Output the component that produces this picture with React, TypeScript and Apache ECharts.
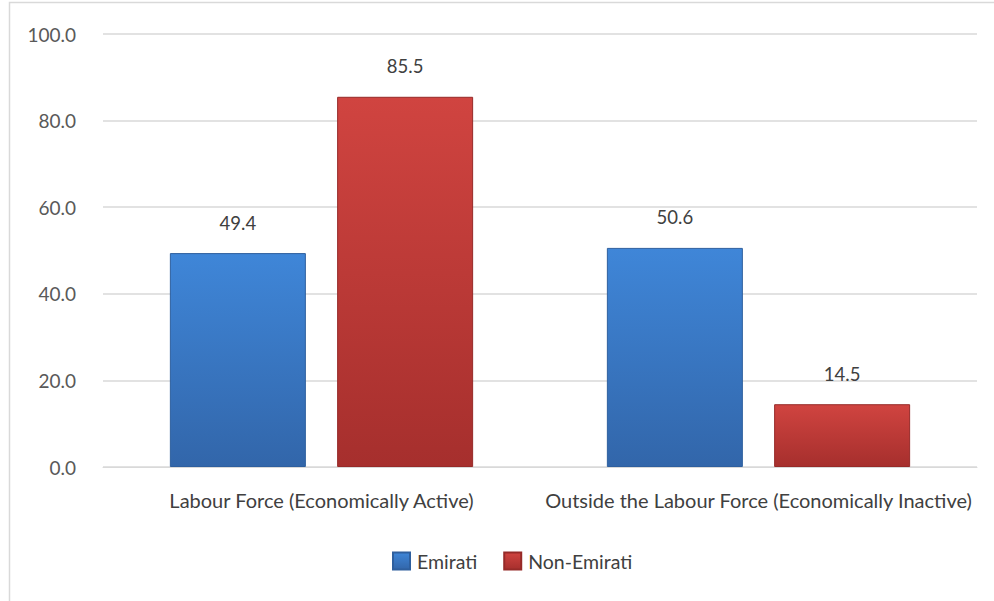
import React, { useEffect, useRef } from "react";
import * as echarts from "echarts";

const categories = ["Labour Force (Economically Active)", "Outside the Labour Force (Economically Inactive)"];
const emirati = [49.4, 50.6];
const nonEmirati = [85.5, 14.5];
const seriesNames = ["Emirati", "Non-Emirati"];

export default function App() {
  const ref = useRef<HTMLDivElement>(null);
  useEffect(() => {
    if (!ref.current) return;
    const chart = echarts.init(ref.current, null, { renderer: "svg" });
    const font = "Lato, 'Noto Sans', sans-serif";
    const blue = new echarts.graphic.LinearGradient(0, 0, 0, 1, [
      { offset: 0, color: "#3f86d8" },
      { offset: 1, color: "#3266aa" },
    ]);
    const red = new echarts.graphic.LinearGradient(0, 0, 0, 1, [
      { offset: 0, color: "#d04440" },
      { offset: 1, color: "#a62f2d" },
    ]);
    const valueLabel = {
      show: true,
      position: "top",
      distance: 21,
      fontSize: 18.5,
      color: "#404040",
      fontFamily: font,
      formatter: (p: any) => p.value.toFixed(1),
    };
    chart.setOption({
      animation: false,
      backgroundColor: "#ffffff",
      textStyle: { fontFamily: font },
      graphic: [
        {
          type: "rect",
          shape: { x: 9.5, y: 2.5, width: 1000, height: 620 },
          style: { fill: "none", stroke: "#d9d9d9", lineWidth: 1.5 },
          silent: true,
          z: -1,
        },
      ],
      grid: { left: 103, right: 17, top: 34, bottom: 134 },
      legend: {
        top: 551,
        left: 392,
        padding: 0,
        itemWidth: 17,
        itemHeight: 17,
        itemGap: 26,
        icon: "rect",
        textStyle: { fontSize: 19.5, color: "#404040", fontFamily: font, padding: [0, 0, 0, 2] },
        data: seriesNames,
      },
      xAxis: {
        type: "category",
        data: categories,
        axisLine: { show: true, lineStyle: { color: "#d9d9d9", width: 1 } },
        axisTick: { show: false },
        axisLabel: { color: "#404040", fontSize: 20, margin: 23, interval: 0, fontFamily: font },
      },
      yAxis: {
        type: "value",
        min: 0,
        max: 100,
        interval: 20,
        axisLine: { show: false },
        axisTick: { show: false },
        splitLine: { lineStyle: { color: "#d9d9d9", width: 1.5 } },
        axisLabel: {
          color: "#595959",
          fontSize: 19,
          margin: 27,
          fontFamily: font,
          formatter: (v: number) => v.toFixed(1),
        },
      },
      series: [
        {
          name: seriesNames[0],
          type: "bar",
          data: emirati,
          barWidth: 136,
          barGap: "23%",
          itemStyle: { color: blue, borderColor: "#2e5f9e", borderWidth: 1 },
          label: valueLabel,
        },
        {
          name: seriesNames[1],
          type: "bar",
          data: nonEmirati,
          barWidth: 136,
          itemStyle: { color: red, borderColor: "#962a28", borderWidth: 1 },
          label: valueLabel,
        },
      ],
    });
    return () => chart.dispose();
  }, []);
  return (
    <div
      ref={ref}
      style={{ position: "fixed", left: 0, top: 0, width: 994, height: 601 }}
    />
  );
}
